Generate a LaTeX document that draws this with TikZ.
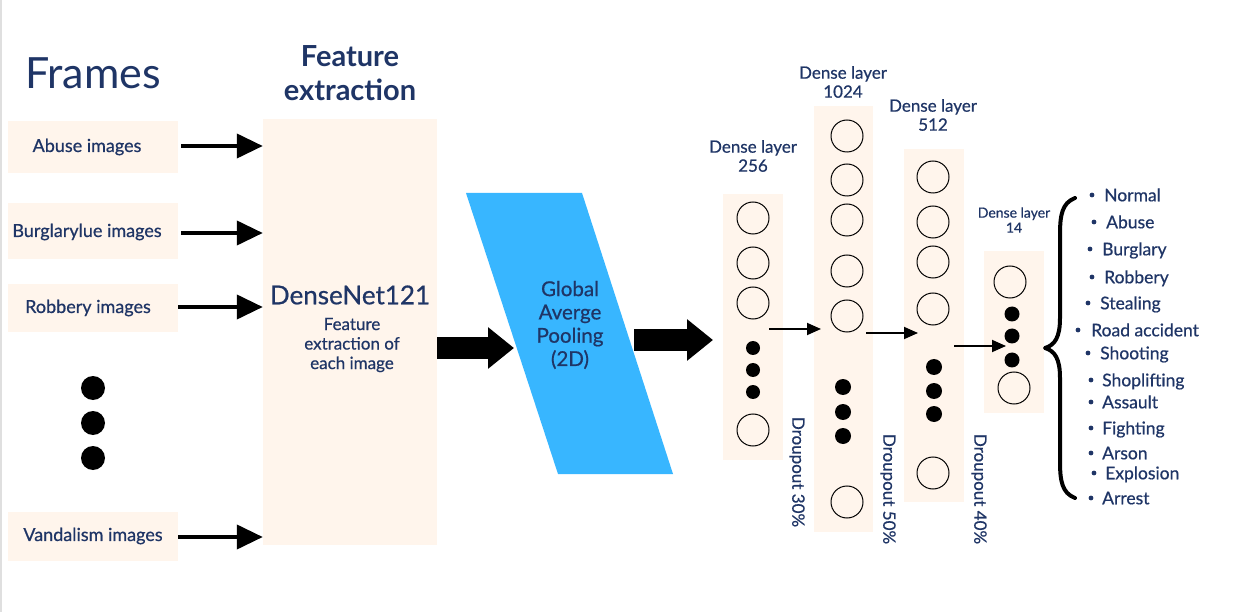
\documentclass[tikz,border=0pt]{standalone}
\usepackage{fontspec}
\setmainfont{Lato}
\newfontfamily\medfont{Lato}[FakeBold=0.6]
\usetikzlibrary{arrows.meta}
\definecolor{navy}{HTML}{1F3566}
\definecolor{boxfill}{HTML}{FFF5EC}
\definecolor{poolblue}{HTML}{38B6FF}
\begin{document}
\begin{tikzpicture}[x=1pt,y=-1pt,
  framebox/.style={fill=boxfill, minimum width=170pt, inner sep=0pt},
  frametext/.style={text=navy, inner sep=0pt, font=\medfont\fontsize{18}{22}\selectfont},
  bigbox/.style={fill=boxfill, inner sep=0pt},
  neuron/.style={circle, draw=black, line width=1pt, minimum size=32pt, inner sep=0pt},
  blackdot/.style={circle, fill=black, inner sep=0pt, minimum size=#1},
  blackdot/.default=14pt,
  thinarrow/.style={-{Triangle[length=14pt,width=12pt]}, line width=1.8pt},
  medarrow/.style={-{Triangle[length=26pt,width=24pt]}, line width=4pt},
  blockarrow/.style={-{Triangle[length=26pt,width=40pt]}, line width=22pt},
  navytext/.style={text=navy, inner sep=0pt, align=center},
  classtext/.style={text=navy, inner sep=0pt, font=\medfont\fontsize{17.5}{20}\selectfont},
  droptext/.style={text=navy, inner sep=0pt, rotate=-90, font=\medfont\fontsize{17}{20}\selectfont}
]
\useasboundingbox (0,0) rectangle (1240,612);
\fill[white] (0,0) rectangle (1240,612);
\draw[gray!25, line width=2pt] (1,0) -- (1,612);

% titles
\node[navytext, font=\fontsize{43}{48}\selectfont] (frames) at (93,73) {Frames};
\node[navytext, font=\bfseries\fontsize{29}{34}\selectfont] (fetitle) at (350,73) {Feature\\extraction};

% frame boxes
\node[framebox, minimum height=52pt] (abuse) at (93,147) {};
\node[framebox, minimum height=56pt] (burg) at (93,231) {};
\node[framebox, minimum height=48pt] (robb) at (93,308) {};
\node[framebox, minimum height=49pt] (vand) at (93,536.5) {};
\node[frametext] (abuse-t) at (87,147) {Abuse images};
\node[frametext] (burg-t) at (87,232) {Burglarylue images};
\node[frametext] (robb-t) at (88,308) {Robbery images};
\node[frametext] (vand-t) at (93,536) {Vandalism images};
\foreach \y in {388,423,458} \node[blackdot=24pt] (fdot-\y) at (93,\y) {};

% feature extraction box
\node[bigbox, minimum width=174pt, minimum height=426pt] (fe) at (350,332) {};
\node[navytext, font=\medfont\fontsize{26}{30}\selectfont] (dn) at (350,295) {DenseNet121};
\node[navytext, font=\medfont\fontsize{17}{19.5}\selectfont] (dndesc) at (352,345) {Feature\\extraction of\\each image};

\draw[medarrow, shorten <=3pt] (abuse.east |- 0,146) -- (fe.west |- 0,146);
\draw[medarrow, shorten <=3pt] (burg.east |- 0,233) -- (fe.west |- 0,233);
\draw[medarrow] (robb.east |- 0,307) -- (fe.west |- 0,307);
\draw[medarrow] (vand.east |- 0,537) -- (fe.west |- 0,537);

% pooling parallelogram
\fill[poolblue] (466,193) -- (582,193) -- (673,474) -- (558,474) -- cycle;
\node[navytext, font=\medfont\fontsize{20.5}{23.3}\selectfont] (pool) at (570,325) {Global\\Averge\\Pooling\\(2D)};
\coordinate (poolin) at (514,348);
\coordinate (poolout) at (634,340);
\coordinate (d256in) at (713,340);
\draw[blockarrow] (fe.east |- poolin) -- (poolin);
\draw[blockarrow] (poolout) -- (d256in);

% dense layers
\node[bigbox, minimum width=60pt, minimum height=266pt] (d256) at (753,327) {};
\node[bigbox, minimum width=59pt, minimum height=426pt] (d1024) at (843.5,319) {};
\node[bigbox, minimum width=60pt, minimum height=353pt] (d512) at (934,325.5) {};
\node[bigbox, minimum width=60pt, minimum height=162pt] (d14) at (1014,332) {};

\foreach \y in {218,263,303,430} \node[neuron] (a-\y) at (753,\y) {};
\foreach \y in {348,370,392} \node[blackdot=14pt] (ad-\y) at (753,\y) {};
\foreach \y in {136,180,220,271,316,502} \node[neuron] (b-\y) at (847,\y) {};
\foreach \y in {387,412,436} \node[blackdot=16pt] (bd-\y) at (843,\y) {};
\foreach \y in {177,222,262,309,473} \node[neuron] (c-\y) at (933,\y) {};
\foreach \y in {367,391,414} \node[blackdot=16pt] (cd-\y) at (934,\y) {};
\node[neuron] (e-1) at (1010,282) {};
\node[neuron] (e-2) at (1014,388) {};
\foreach \y in {314,336,360} \node[blackdot=15pt] (ed-\y) at (1012,\y) {};

\node[navytext, font=\medfont\fontsize{17}{19}\selectfont] (l256) at (753,156) {Dense layer\\256};
\node[navytext, font=\medfont\fontsize{17}{19}\selectfont] (l1024) at (843,82) {Dense layer\\1024};
\node[navytext, font=\medfont\fontsize{17}{19}\selectfont] (l512) at (933,115) {Dense layer\\512};
\node[navytext, font=\medfont\fontsize{14}{15}\selectfont] (l14) at (1014,220) {Dense layer\\14};

\coordinate (s1) at (769,329); \coordinate (t1) at (821,329);
\coordinate (s2) at (866,333); \coordinate (t2) at (918,333);
\coordinate (s3) at (954,346); \coordinate (t3) at (1006,346);
\draw[thinarrow] (s1) -- (t1);
\draw[thinarrow] (s2) -- (t2);
\draw[thinarrow] (s3) -- (t3);

\node[droptext] (dr30) at (797,472) {Droupout 30\%};
\node[droptext] (dr50) at (888,489) {Droupout 50\%};
\node[droptext] (dr40) at (979,489) {Droupout 40\%};

% brace
\draw[line width=4pt, line cap=round, line join=round]
  (1075,198) .. controls (1062,203) and (1060,215) .. (1060,235) -- (1060,318)
  .. controls (1060,337) and (1055,345) .. (1045,348)
  .. controls (1055,351) and (1060,359) .. (1060,378) -- (1060,461)
  .. controls (1060,481) and (1062,493) .. (1075,498);

% class list
\foreach \bx/\tx/\y/\t in {1092/1104/195/Normal, 1094/1106/222/Abuse, 1090/1102/249/Burglary,
  1092/1104/277/Robbery, 1088/1100/303/Stealing, 1078/1091/330/Road accident,
  1088/1100/353/Shooting, 1091/1102/380/Shoplifting, 1091/1102/402/Assault,
  1091/1102/428/Fighting, 1091/1102/453/Arson, 1094/1105/473/Explosion, 1091/1102/498/Arrest}
{
  \fill[navy] (\bx,\y) circle (2.4pt);
  \node[classtext, anchor=base west] (cls-\y) at (\tx,\y+6.3) {\t};
}
\end{tikzpicture}
\end{document}
